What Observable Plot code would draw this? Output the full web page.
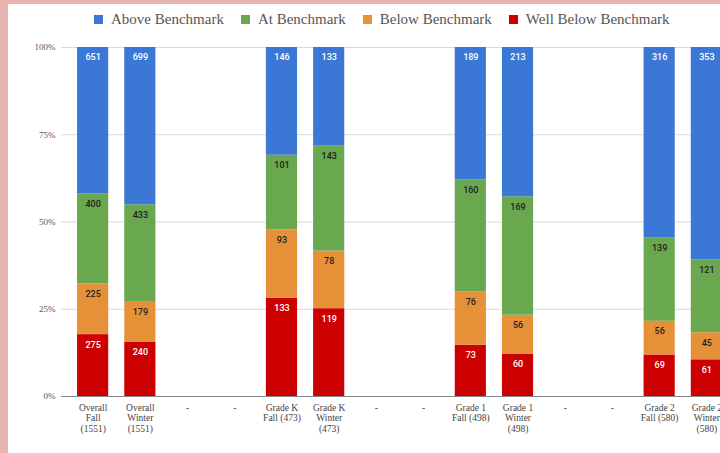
<!DOCTYPE html>
<html><head><meta charset="utf-8">
<script src="https://cdn.jsdelivr.net/npm/d3@7"></script>
<script src="https://cdn.jsdelivr.net/npm/@observablehq/plot@0.6"></script>
<style>
body{margin:0;background:#fff;overflow:hidden;width:720px;height:453px;position:relative}
#frame{position:absolute;left:0;top:0;width:780px;height:453px;border-left:8px solid #e8b4b1;border-top:4px solid #e8b4b1;box-sizing:border-box;background:#fff}
#legend{position:absolute;left:86px;top:2px;height:26px;display:flex;align-items:center;font-family:"Liberation Serif",serif;font-size:15px;color:#555;white-space:nowrap}
.item{display:flex;align-items:center;margin-right:17px}
.sw{width:9px;height:9px;margin-right:8px}
#chart{position:absolute;left:0;top:30px}
</style></head><body>
<div id="frame"><div id="legend"></div><div id="chart"></div></div>
<script>
const categories = [
  "Overall\nFall\n(1551)", "Overall\nWinter\n(1551)", "-", "-",
  "Grade K\nFall (473)", "Grade K\nWinter\n(473)", "-", "-",
  "Grade 1\nFall (498)", "Grade 1\nWinter\n(498)", "-", "-",
  "Grade 2\nFall (580)", "Grade 2\nWinter\n(580)"
];
const seriesNames = ["Above Benchmark", "At Benchmark", "Below Benchmark", "Well Below Benchmark"];
const seriesColors = ["#3b78d6", "#6aa84f", "#e69138", "#cc0000"];
const labelColors = ["#ffffff", "#222222", "#222222", "#ffffff"];
const above     = [651, 699, 0, 0, 146, 133, 0, 0, 189, 213, 0, 0, 316, 353];
const at        = [400, 433, 0, 0, 101, 143, 0, 0, 160, 169, 0, 0, 139, 121];
const below     = [225, 179, 0, 0,  93,  78, 0, 0,  76,  56, 0, 0,  56,  45];
const wellBelow = [275, 240, 0, 0, 133, 119, 0, 0,  73,  60, 0, 0,  69,  61];
const yTicks = [0, 0.25, 0.5, 0.75, 1];

// stacking order: bottom to top
const stackOrder = [[wellBelow, 3], [below, 2], [at, 1], [above, 0]];
const data = [];
stackOrder.forEach(([arr, s]) => {
  arr.forEach((v, i) => {
    if (v > 0) data.push({cat: i, series: seriesNames[s], value: v, light: labelColors[s] === "#ffffff"});
  });
});

// legend
const legend = document.getElementById("legend");
seriesNames.forEach((n, i) => {
  const it = document.createElement("div");
  it.className = "item";
  it.innerHTML = `<span class="sw" style="background:${seriesColors[i]}"></span><span>${n}</span>`;
  legend.appendChild(it);
});

const keys = categories.map((_, i) => i);
const stackOpts = {x: "cat", y: "value", z: "series", offset: "normalize", order: null};

const chart = Plot.plot({
  width: 734,
  height: 414,
  marginLeft: 53,
  marginRight: 4,
  marginTop: 13,
  marginBottom: 52,
  style: {background: "transparent"},
  x: {domain: keys, padding: 0.34, round: false, label: null},
  y: {domain: [0, 1], label: null},
  color: {domain: seriesNames, range: seriesColors},
  marks: [
    Plot.gridY(yTicks, {stroke: "#d9d9d9", strokeOpacity: 1}),
    Plot.axisY(yTicks, {tickSize: 0, tickPadding: 6, tickFormat: d3.format(".0%"),
      fontFamily: "Liberation Serif", fontSize: 9, fill: "#555", label: null}),
    Plot.axisX({tickSize: 0, tickPadding: 7, tickFormat: i => categories[i],
      fontFamily: "Liberation Serif", fontSize: 9.5, fill: "#444", lineHeight: 1.1, label: null}),
    Plot.barY(data, Plot.stackY({...stackOpts, fill: "series"})),
    Plot.text(data, Plot.stackY2({...stackOpts, text: d => d.light ? String(d.value) : null,
      fill: "#ffffff", dy: 10, fontFamily: "Roboto", fontSize: 9, fontWeight: 500})),
    Plot.text(data, Plot.stackY2({...stackOpts, text: d => d.light ? null : String(d.value),
      fill: "#222222", dy: 10, fontFamily: "Roboto", fontSize: 9, fontWeight: 500})),
    Plot.ruleY([0], {stroke: "#888", strokeWidth: 1.2})
  ]
});
document.getElementById("chart").appendChild(chart);
</script>
</body></html>
